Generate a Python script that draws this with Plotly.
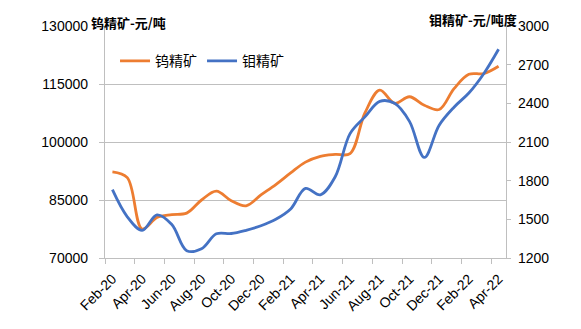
import plotly.graph_objects as go

months = ["Feb-20", "Mar-20", "Apr-20", "May-20", "Jun-20", "Jul-20", "Aug-20", "Sep-20",
          "Oct-20", "Nov-20", "Dec-20", "Jan-21", "Feb-21", "Mar-21", "Apr-21", "May-21",
          "Jun-21", "Jul-21", "Aug-21", "Sep-21", "Oct-21", "Nov-21", "Dec-21", "Jan-22",
          "Feb-22", "Mar-22", "Apr-22"]

tungsten = [92300, 90800, 77500, 80500, 81200, 81600, 85000, 87300,
            84800, 83500, 86300, 89000, 92000, 94800, 96300, 96800,
            97000, 107500, 113400, 110000, 111700, 109500, 108400, 113800,
            117500, 117700, 119600]

molybdenum = [1730, 1520, 1415, 1535, 1460, 1257, 1272, 1388,
              1390, 1415, 1450, 1500, 1580, 1740, 1690, 1830,
              2165, 2295, 2415, 2400, 2260, 1980, 2230, 2370,
              2480, 2630, 2820]

left_ticks = [70000, 85000, 100000, 115000, 130000]
right_ticks = [1200, 1500, 1800, 2100, 2400, 2700, 3000]

xi = list(range(len(months)))
label_idx = xi[::2]
label_text = [months[i] for i in label_idx]
boundary_ticks = [i - 0.5 for i in label_idx]

ORANGE = "#ED7D31"
BLUE = "#4472C4"
GRID = "#BFBFBF"
NUM_FONT = "Liberation Sans, Arial, Noto Sans CJK SC"
CJK_FONT = "Noto Sans CJK SC, Liberation Sans"

fig = go.Figure()
fig.add_trace(go.Scatter(x=xi, y=tungsten, name="钨精矿", mode="lines",
                         line=dict(color=ORANGE, width=2.8, shape="spline", smoothing=1)))
fig.add_trace(go.Scatter(x=xi, y=molybdenum, name="钼精矿", mode="lines", yaxis="y2",
                         line=dict(color=BLUE, width=2.8, shape="spline", smoothing=1)))

fig.update_layout(
    width=581, height=329,
    margin=dict(l=105, r=75, t=26, b=71),
    paper_bgcolor="white", plot_bgcolor="white",
    font=dict(family=NUM_FONT, size=14, color="black"),
    showlegend=True,
    legend=dict(orientation="h", x=0.025, y=0.848, xanchor="left", yanchor="middle",
                font=dict(family=CJK_FONT, size=14, color="black"),
                bgcolor="rgba(0,0,0,0)", itemwidth=30, tracegroupgap=0),
    xaxis=dict(range=[-0.5, len(months) - 0.5], tickmode="array", tickvals=label_idx,
               ticktext=label_text, tickangle=-45, showgrid=False, zeroline=False,
               showline=True, linecolor=GRID, linewidth=1.3,
               ticks="outside", ticklen=6, tickcolor="rgba(0,0,0,0)",
               minor=dict(tickmode="array", tickvals=boundary_ticks, ticks="outside",
                          ticklen=5, tickcolor=GRID, tickwidth=1.3, showgrid=False),
               tickfont=dict(family=NUM_FONT, size=14)),
    yaxis=dict(range=[70000, 130000], tickmode="array", tickvals=left_ticks,
               ticktext=[str(v) for v in left_ticks],
               showgrid=True, gridcolor=GRID, gridwidth=1.3, zeroline=False,
               showline=True, linecolor=GRID, linewidth=1.3,
               ticks="outside", ticklen=5, tickcolor=GRID, ticklabelstandoff=8,
               tickfont=dict(family=NUM_FONT, size=14)),
    yaxis2=dict(range=[1200, 3000], tickmode="array", tickvals=right_ticks,
                ticktext=[str(v) for v in right_ticks],
                overlaying="y", side="right", showgrid=False, zeroline=False,
                showline=True, linecolor=GRID, linewidth=1.3,
                ticks="outside", ticklen=4, tickcolor=GRID, ticklabelstandoff=4,
                tickfont=dict(family=NUM_FONT, size=14)),
    annotations=[
        dict(text="<b>钨精矿-元/吨</b>", xref="paper", yref="paper", x=0.059, y=1.017,
             xanchor="center", yanchor="middle", showarrow=False,
             font=dict(family=CJK_FONT, size=13, color="black")),
        dict(text="<b>钼精矿-元/吨度</b>", xref="paper", yref="paper", x=0.917, y=1.026,
             xanchor="center", yanchor="middle", showarrow=False,
             font=dict(family=CJK_FONT, size=13, color="black")),
    ],
)

fig.write_html("out.html")
